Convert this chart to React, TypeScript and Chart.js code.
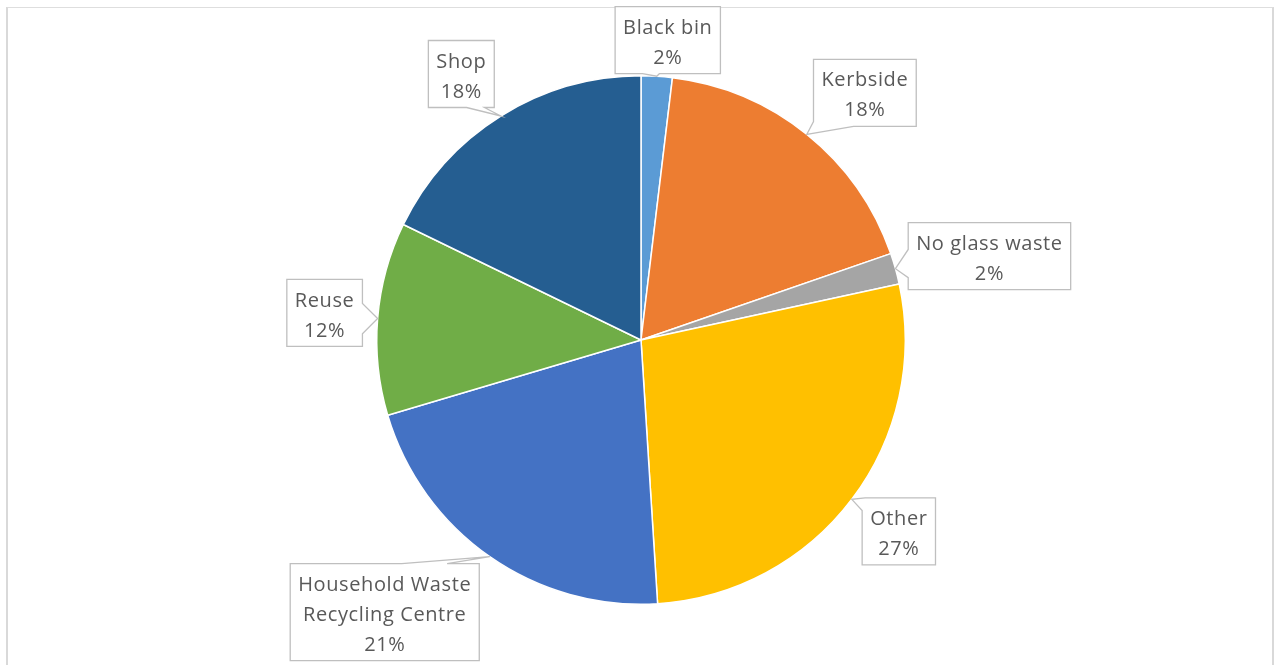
import React, { useEffect, useRef } from "react";
import { Chart, registerables } from "chart.js";

Chart.register(...registerables);

const categories: (string | string[])[] = [
  "Black bin",
  "Kerbside",
  "No glass waste",
  "Other",
  ["Household Waste", "Recycling Centre"],
  "Reuse",
  "Shop",
];
const values = [1.9, 17.8, 1.9, 27.4, 21.4, 11.8, 17.8];
const colors = ["#5B9BD5", "#ED7D31", "#A5A5A5", "#FFC000", "#4472C4", "#70AD47", "#255E91"];

// label box centre offsets from the callout tip (px)
const labelOffsets: [number, number][] = [
  [11, -36],
  [58, -41.5],
  [94, -12.5],
  [47, 32],
  [-105, 55.5],
  [-53, -5.5],
  [-39.5, -42],
];
type Side = "top" | "right" | "bottom" | "left";
// callout wedge base points (first clockwise, second clockwise) as fraction along edge
const wedges: [[Side, number], [Side, number]][] = [
  [["bottom", 0.42], ["bottom", 0.26]],
  [["bottom", 0.39], ["left", 0.93]],
  [["left", 0.82], ["left", 0.4]],
  [["left", 0.19], ["top", 0.04]],
  [["top", 0.59], ["top", 0.83]],
  [["right", 0.36], ["right", 0.81]],
  [["bottom", 0.85], ["bottom", 0.58]],
];

const FONT_SIZE = 20;
const LINE_H = 30;
const PAD_X = 8;
const PAD_Y = 3.5;

const calloutPlugin = {
  id: "callouts",
  afterDatasetsDraw(chart: any) {
    const ctx: CanvasRenderingContext2D = chart.ctx;
    const meta = chart.getDatasetMeta(0);
    const data: number[] = chart.data.datasets[0].data;
    const total = data.reduce((a, b) => a + b, 0);
    ctx.save();
    ctx.font = `${FONT_SIZE}px "Open Sans"`;
    (ctx as any).letterSpacing = "0.6px";
    meta.data.forEach((arc: any, i: number) => {
      const p = arc.getProps(["x", "y", "startAngle", "endAngle", "outerRadius"], true);
      const mid = (p.startAngle + p.endAngle) / 2;
      const tx = p.x + Math.cos(mid) * p.outerRadius;
      const ty = p.y + Math.sin(mid) * p.outerRadius;
      const lab = chart.data.labels[i];
      const lines: string[] = (Array.isArray(lab) ? [...lab] : [lab]).concat(
        Math.round((data[i] / total) * 100) + "%"
      );
      const tw = Math.max(...lines.map((l) => ctx.measureText(l).width));
      const w = tw + PAD_X * 2;
      const h = lines.length * LINE_H + PAD_Y * 2;
      const cx = tx + labelOffsets[i][0];
      const cy = ty + labelOffsets[i][1];
      const x0 = cx - w / 2;
      const y0 = cy - h / 2;
      const P = 2 * w + 2 * h;
      const param = (side: Side, f: number) => {
        if (side === "top") return f * w;
        if (side === "right") return w + f * h;
        if (side === "bottom") return w + h + (1 - f) * w;
        return 2 * w + h + (1 - f) * h;
      };
      const pt = (s: number): [number, number] => {
        s = ((s % P) + P) % P;
        if (s < w) return [x0 + s, y0];
        if (s < w + h) return [x0 + w, y0 + s - w];
        if (s < 2 * w + h) return [x0 + w - (s - w - h), y0 + h];
        return [x0, y0 + h - (s - 2 * w - h)];
      };
      const p1 = param(wedges[i][0][0], wedges[i][0][1]);
      const p2 = param(wedges[i][1][0], wedges[i][1][1]);
      const span = (((p1 - p2) % P) + P) % P;
      const corners = [0, w, w + h, 2 * w + h]
        .map((c) => ({ c, d: (((c - p2) % P) + P) % P }))
        .filter((o) => o.d > 0 && o.d < span)
        .sort((a, b) => a.d - b.d);
      ctx.beginPath();
      const s2 = pt(p2);
      ctx.moveTo(s2[0], s2[1]);
      corners.forEach((o) => {
        const q = pt(o.c);
        ctx.lineTo(q[0], q[1]);
      });
      const s1 = pt(p1);
      ctx.lineTo(s1[0], s1[1]);
      ctx.lineTo(tx, ty);
      ctx.closePath();
      ctx.fillStyle = "#FFFFFF";
      ctx.fill();
      ctx.strokeStyle = "#BFBFBF";
      ctx.lineWidth = 1.3;
      ctx.stroke();
      ctx.fillStyle = "#595959";
      ctx.textAlign = "center";
      ctx.textBaseline = "middle";
      lines.forEach((l, k) => {
        ctx.fillText(l, cx, y0 + PAD_Y + LINE_H * (k + 0.5) + 3);
      });
    });
    ctx.restore();
  },
};

export default function App() {
  const ref = useRef<HTMLCanvasElement>(null);
  useEffect(() => {
    if (!ref.current) return;
    const chart = new Chart(ref.current, {
      type: "pie",
      data: {
        labels: categories as any,
        datasets: [
          {
            data: values,
            backgroundColor: colors,
            borderColor: "#FFFFFF",
            borderWidth: 1.5,
          },
        ],
      },
      options: {
        responsive: false,
        animation: false,
        layout: { padding: { top: 75, bottom: 60, left: 100, right: 94 } },
        plugins: { legend: { display: false }, tooltip: { enabled: false } },
      },
      plugins: [calloutPlugin],
    });
    return () => chart.destroy();
  }, []);
  return (
    <div style={{ position: "fixed", left: 0, top: 0, width: 1276, height: 665, background: "#fff", overflow: "hidden" }}>
      <div
        style={{
          position: "absolute",
          left: 6,
          top: 7,
          width: 1264,
          height: 800,
          borderTop: "1px solid #DEDEDE",
          borderLeft: "2px solid #D9D9D9",
          borderRight: "2px solid #D9D9D9",
        }}
      />
      <canvas ref={ref} width={1276} height={665} style={{ position: "absolute", left: 0, top: 0 }} />
    </div>
  );
}
